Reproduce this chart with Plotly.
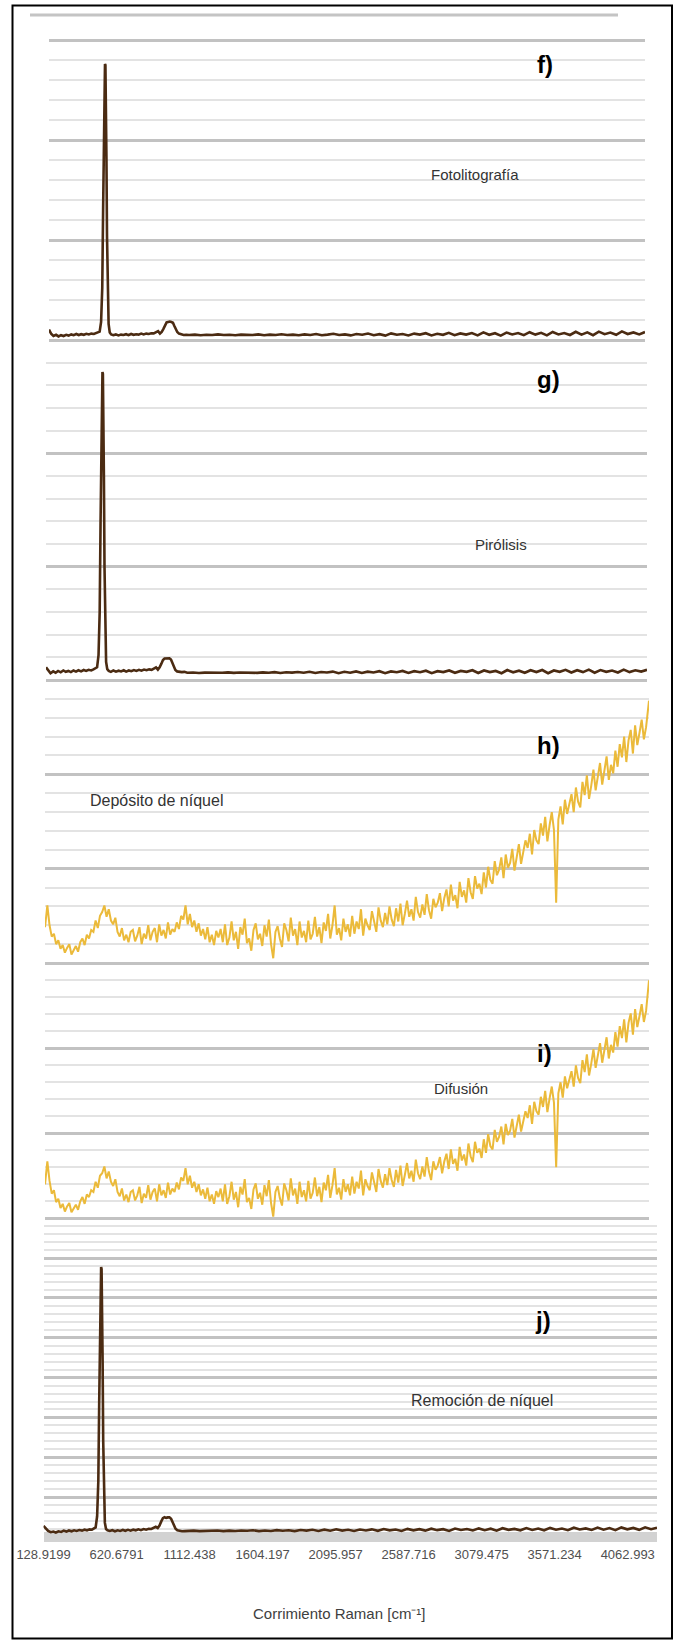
import plotly.graph_objects as go

# ---------------- data ----------------
# Raman shift sampling for the brown spectra (f, g, j)
SHIFT_BROWN = [
    129, 145, 160, 178, 195, 212, 230, 248, 265, 283, 300, 318, 335, 352, 370, 388, 405, 422, 440, 455, 468, 480,
    490, 498, 504, 509, 513, 517, 520, 523, 527, 531, 536, 542, 550, 560,
    575, 592, 610, 628, 645, 663, 680, 698, 715, 733, 750, 768, 785, 803, 820, 838, 855, 870, 885,
    898, 910, 922, 933, 944, 955, 966, 977, 988, 998, 1008, 1018, 1030, 1045, 1062, 1080,
    1100, 1140, 1180, 1220, 1260, 1300, 1340, 1380, 1420, 1460,
    1500, 1540, 1580, 1620, 1660, 1700, 1740, 1780, 1820, 1860,
    1900, 1940, 1980, 2020, 2060, 2100, 2140, 2180, 2220, 2260,
    2300, 2340, 2380, 2420, 2460, 2500, 2540, 2580, 2620, 2660,
    2700, 2740, 2780, 2820, 2860, 2900, 2940, 2980, 3020, 3060,
    3100, 3140, 3180, 3220, 3260, 3300, 3340, 3380, 3420, 3460,
    3500, 3540, 3580, 3620, 3660, 3700, 3740, 3780, 3820, 3860,
    3900, 3940, 3980, 4020, 4060, 4100, 4140, 4180, 4220, 4260,
]

FOTOLITOGRAFIA = [
    520, 300, 200, 260, 180, 240, 200, 260, 220, 280, 240, 300, 250, 290, 260, 310, 280, 320, 300, 340, 360, 420,
    900, 2600, 6500, 10500, 13000, 13800, 13750, 12600, 9200, 5200, 2100, 800, 380, 280,
    240, 280, 230, 270, 250, 290, 240, 300, 260, 290, 270, 320, 280, 320, 300, 340, 330, 380, 440,
    320, 400, 560, 760, 880, 900, 920, 900, 860, 700, 520, 400, 320, 280, 250, 260,
    250, 270, 240, 260, 250, 280, 250, 260, 240, 270,
    260, 250, 280, 240, 270, 250, 290, 250, 270, 240,
    280, 250, 300, 240, 270, 310, 250, 280, 230, 300,
    260, 320, 240, 290, 220, 330, 260, 300, 230, 320,
    270, 340, 230, 310, 260, 360, 240, 330, 270, 350,
    230, 380, 260, 340, 220, 370, 280, 350, 240, 390,
    270, 360, 230, 400, 280, 350, 250, 410, 270, 380,
    240, 420, 290, 370, 260, 430, 300, 380, 280, 400,
]

PIROLISIS = [
    560, 420, 300, 380, 320, 400, 340, 420, 360, 400, 350, 420, 370, 430, 380, 440, 400, 450, 420, 470, 500, 560,
    1100, 3000, 7000, 11000, 13000, 13580, 13500, 12400, 9000, 5000, 2000, 800, 480, 400,
    360, 420, 370, 410, 380, 430, 370, 420, 390, 440, 400, 450, 410, 460, 430, 470, 450, 500, 560,
    460, 560, 720, 880, 950, 960, 940, 960, 900, 740, 560, 440, 380, 360, 350, 360,
    320, 330, 310, 325, 315, 330, 320, 335, 315, 330,
    320, 340, 315, 335, 320, 345, 310, 340, 325, 350,
    320, 360, 310, 350, 330, 370, 300, 360, 320, 380,
    310, 370, 330, 390, 300, 380, 340, 400, 310, 390,
    340, 410, 300, 390, 350, 420, 320, 400, 360, 430,
    310, 420, 350, 400, 300, 440, 340, 410, 320, 430,
    350, 440, 300, 420, 360, 450, 330, 430, 350, 460,
    320, 440, 360, 420, 330, 460, 350, 430, 370, 450,
]

REMOCION_NIQUEL = [
    700, 520, 380, 300, 340, 280, 360, 320, 400, 340, 410, 360, 420, 380, 440, 400, 460, 420, 480, 460, 520, 600,
    1300, 3500, 8500, 13000, 16000, 16940, 16800, 15200, 11000, 6000, 2400, 900, 500, 420,
    380, 430, 360, 420, 380, 440, 390, 450, 400, 460, 420, 480, 430, 500, 460, 520, 500, 560, 640,
    560, 720, 980, 1180, 1240, 1200, 1230, 1240, 1150, 950, 700, 520, 420, 380, 360, 370,
    380, 400, 370, 390, 380, 410, 370, 400, 380, 410,
    390, 420, 370, 410, 380, 430, 390, 420, 370, 440,
    400, 450, 380, 460, 390, 480, 400, 450, 380, 470,
    410, 480, 390, 500, 420, 470, 380, 510, 420, 490,
    400, 520, 430, 490, 380, 530, 440, 500, 410, 540,
    430, 520, 400, 550, 450, 510, 420, 560, 440, 530,
    420, 570, 460, 530, 430, 580, 470, 540, 440, 590,
    460, 560, 430, 600, 480, 570, 450, 610, 490, 580,
]

# Raman shift sampling for the yellow spectra (h, i)
SHIFT_YELLOW = [
    129, 145, 160, 175, 190, 205, 220, 235, 250, 265, 280, 295, 310, 325, 340, 355, 370, 385, 400, 415,
    430, 445, 460, 475, 490, 505, 520, 535, 550, 565, 580, 595, 610, 625, 640, 655, 670, 685, 700, 715,
    730, 745, 760, 775, 790, 805, 820, 835, 850, 865, 880, 895, 910, 925, 940, 955, 970, 985, 1000, 1015,
    1030, 1045, 1060, 1075, 1090, 1105, 1120, 1135, 1150, 1165, 1180, 1195, 1210, 1225, 1240, 1255, 1270, 1285, 1300, 1315,
    1330, 1345, 1360, 1375, 1390, 1405, 1420, 1435, 1450, 1465, 1480, 1495, 1510, 1525, 1540, 1555, 1570, 1585, 1600, 1615,
    1630, 1645, 1660, 1675, 1690, 1705, 1720, 1735, 1750, 1765, 1780, 1795, 1810, 1825, 1840, 1855, 1870, 1885, 1900, 1915,
    1930, 1945, 1960, 1975, 1990, 2005, 2020, 2035, 2050, 2065, 2080, 2095, 2110, 2125, 2140, 2155, 2170, 2185, 2200, 2215,
    2230, 2245, 2260, 2275, 2290, 2305, 2320, 2335, 2350, 2365, 2380, 2395, 2410, 2425, 2440, 2455, 2470, 2485, 2500, 2515,
    2530, 2545, 2560, 2575, 2590, 2605, 2620, 2635, 2650, 2665, 2680, 2695, 2710, 2725, 2740, 2755, 2770, 2785, 2800, 2815,
    2830, 2845, 2860, 2875, 2890, 2905, 2920, 2935, 2950, 2965, 2980, 2995, 3010, 3025, 3040, 3055, 3070, 3085, 3100, 3115,
    3130, 3145, 3160, 3175, 3190, 3205, 3220, 3235, 3250, 3265, 3280, 3295, 3310, 3325, 3340, 3355, 3370, 3385, 3400, 3415,
    3430, 3445, 3460, 3475, 3490, 3505, 3520, 3535, 3550, 3565, 3580, 3595, 3610, 3625, 3640, 3655, 3670, 3685, 3700, 3715,
    3730, 3745, 3760, 3775, 3790, 3805, 3820, 3835, 3850, 3865, 3880, 3895, 3910, 3925, 3940, 3955, 3970, 3985, 4000, 4015,
    4030, 4045, 4060, 4075, 4090, 4105, 4120, 4135, 4150, 4165, 4180, 4195, 4210, 4225, 4240, 4260,
]

DEPOSITO_NIQUEL = [
    38, 61, 40, 28, 31, 20, 24, 15, 19, 11, 16, 20, 9, 14, 18, 12, 22, 26, 19, 30,
    26, 35, 33, 45, 37, 50, 54, 61, 49, 57, 45, 41, 48, 33, 28, 37, 24, 30, 22, 33,
    35, 23, 29, 38, 20, 31, 26, 40, 24, 33, 37, 22, 41, 29, 35, 26, 43, 30, 36, 33,
    43, 36, 50, 46, 61, 41, 52, 38, 45, 33, 42, 29, 36, 25, 38, 22, 30, 19, 34, 27,
    36, 22, 41, 19, 27, 44, 24, 33, 15, 38, 30, 47, 21, 26, 13, 35, 42, 25, 31, 18,
    40, 28, 46, 20, 5, 33, 39, 26, 17, 42, 35, 23, 48, 29, 36, 19, 44, 27, 34, 22,
    45, 25, 31, 49, 28, 38, 21, 43, 34, 52, 26, 40, 61, 30, 37, 24, 47, 33, 41, 28,
    50, 31, 44, 36, 57, 29, 47, 40, 35, 55, 42, 33, 59, 45, 38, 53, 41, 60, 46, 39,
    58, 44, 63, 40, 52, 66, 49, 57, 45, 70, 54, 48, 62, 51, 73, 56, 47, 68, 59, 64,
    74, 55, 69, 78, 60, 83, 66, 72, 58, 86, 70, 77, 64, 90, 75, 68, 92, 79, 84, 73,
    96, 80, 102, 88, 84, 108, 93, 99, 112, 90, 115, 101, 106, 121, 98, 113, 126, 105, 119, 130,
    122, 137, 115, 141, 130, 126, 148, 135, 155, 129, 146, 160, 141, 64, 152, 166, 147, 173, 158, 168,
    179, 160, 186, 171, 165, 192, 178, 199, 174, 188, 205, 183, 196, 212, 189, 203, 219, 194, 210, 201,
    225, 208, 232, 218, 240, 213, 236, 247, 222, 252, 231, 244, 258, 237, 250, 278,
]

DIFUSION = [
    40, 67, 44, 29, 33, 19, 23, 12, 17, 8, 14, 18, 7, 12, 16, 10, 20, 25, 17, 28,
    25, 33, 31, 43, 36, 50, 53, 61, 47, 55, 43, 38, 46, 31, 26, 35, 21, 28, 19, 31,
    33, 21, 27, 37, 18, 29, 24, 39, 22, 31, 35, 20, 40, 27, 33, 24, 42, 28, 35, 31,
    42, 34, 48, 44, 59, 40, 50, 36, 43, 31, 40, 27, 34, 23, 36, 20, 28, 17, 32, 25,
    35, 20, 40, 17, 26, 43, 22, 31, 13, 37, 28, 46, 19, 24, 11, 34, 41, 23, 30, 16,
    39, 26, 45, 18, 2, 31, 38, 24, 15, 41, 33, 21, 47, 27, 35, 17, 43, 25, 33, 20,
    44, 23, 30, 48, 26, 37, 19, 42, 33, 51, 24, 39, 59, 28, 36, 22, 46, 31, 40, 27,
    49, 29, 43, 35, 56, 27, 46, 38, 33, 54, 41, 31, 58, 44, 36, 52, 39, 59, 45, 37,
    57, 42, 62, 38, 51, 65, 47, 56, 43, 69, 53, 46, 61, 49, 72, 55, 45, 67, 57, 62,
    72, 53, 67, 76, 58, 81, 64, 70, 56, 84, 68, 75, 62, 88, 73, 66, 90, 77, 82, 71,
    93, 77, 99, 85, 81, 104, 90, 96, 108, 87, 111, 98, 103, 117, 95, 110, 122, 102, 116, 126,
    118, 133, 111, 137, 126, 122, 143, 131, 150, 125, 141, 155, 136, 60, 147, 160, 142, 167, 153, 162,
    173, 155, 180, 165, 159, 186, 172, 193, 168, 182, 199, 177, 190, 206, 183, 197, 213, 188, 204, 195,
    219, 202, 226, 212, 234, 207, 230, 241, 216, 246, 225, 238, 252, 231, 244, 280,
]

TICK_VALUES = [128.9199, 620.6791, 1112.438, 1604.197, 2095.957, 2587.716, 3079.475, 3571.234, 4062.993]
TICK_LABELS = ["128.9199", "620.6791", "1112.438", "1604.197", "2095.957", "2587.716", "3079.475", "3571.234", "4062.993"]

PANEL_TAGS = ["f)", "g)", "h)", "i)", "j)"]
PANEL_NAMES = ["Fotolitografía", "Pirólisis", "Depósito de níquel", "Difusión", "Remoción de níquel"]
X_TITLE = "Corrimiento Raman [cm⁻¹]"

for name, ys, xs in [("f", FOTOLITOGRAFIA, SHIFT_BROWN), ("g", PIROLISIS, SHIFT_BROWN),
                     ("j", REMOCION_NIQUEL, SHIFT_BROWN), ("h", DEPOSITO_NIQUEL, SHIFT_YELLOW),
                     ("i", DIFUSION, SHIFT_YELLOW)]:
    if len(ys) != len(xs):
        raise ValueError(f"{name}: {len(ys)} vs {len(xs)}")

# ---------------- layout ----------------
W, H = 675, 1640
BROWN = "#4b2b12"
YELLOW = "#ebba3a"
MAJOR = "#c2c2c2"
MINOR = "#e3e3e3"
SANS = "Liberation Sans, Arial, sans-serif"
X_RANGE = [128.9199, 4260]

# per panel: x px domain, y px domain, px of value 0, units per px, minor dtick, major dtick
PANELS = [
    dict(xd=(49, 645), yd=(33, 343), base=340.0, upp=1000 / 20.0, minor=1000, major=5000),
    dict(xd=(46, 647), yd=(343, 683), base=680.0, upp=1000 / 22.67, minor=1000, major=5000),
    dict(xd=(45, 649), yd=(683, 966), base=963.0, upp=20 / 18.87, minor=20, major=100),
    dict(xd=(45, 649), yd=(966, 1221), base=1218.3, upp=20 / 17.0, minor=20, major=100),
    dict(xd=(43.5, 657), yd=(1221, 1545), base=1537.0, upp=500 / 7.97, minor=500, major=2500),
]

SERIES = [
    (SHIFT_BROWN, FOTOLITOGRAFIA, BROWN, 2.6),
    (SHIFT_BROWN, PIROLISIS, BROWN, 2.6),
    (SHIFT_YELLOW, DEPOSITO_NIQUEL, YELLOW, 2.0),
    (SHIFT_YELLOW, DIFUSION, YELLOW, 2.0),
    (SHIFT_BROWN, REMOCION_NIQUEL, BROWN, 2.6),
]

fig = go.Figure()
layout = dict(
    width=W, height=H, margin=dict(l=0, r=0, t=0, b=0, pad=0, autoexpand=False),
    paper_bgcolor="white", plot_bgcolor="white", showlegend=False,
)

for k, (p, (xs, ys, col, lw)) in enumerate(zip(PANELS, SERIES)):
    n = "" if k == 0 else str(k + 1)
    fig.add_trace(go.Scatter(x=xs, y=ys, mode="lines", line=dict(color=col, width=lw),
                             xaxis="x" + n, yaxis="y" + n, hoverinfo="skip"))
    y_lo = (p["base"] - p["yd"][1]) * p["upp"]
    y_hi = (p["base"] - p["yd"][0]) * p["upp"]
    is_last = k == len(PANELS) - 1
    xa = dict(domain=[p["xd"][0] / W, p["xd"][1] / W], range=X_RANGE, anchor="y" + n,
              showgrid=False, zeroline=False, showline=False, ticks="", automargin=False,
              showticklabels=is_last, fixedrange=True)
    if is_last:
        xa.update(tickmode="array", tickvals=TICK_VALUES, ticktext=TICK_LABELS,
                  tickfont=dict(family=SANS, size=13, color="#505050"))
    ya = dict(domain=[1 - p["yd"][1] / H, 1 - p["yd"][0] / H], range=[y_lo, y_hi], anchor="x" + n,
              showticklabels=False, ticks="", showline=False, automargin=False,
              tick0=0, dtick=p["major"], showgrid=True, gridcolor=MAJOR, gridwidth=2.5,
              minor=dict(tick0=0, dtick=p["minor"], showgrid=True, gridcolor=MINOR, gridwidth=1.6),
              zeroline=is_last, zerolinecolor="#d2d2d2", zerolinewidth=10, fixedrange=True)
    layout["xaxis" + n] = xa
    layout["yaxis" + n] = ya

fig.update_layout(**layout)

# panel tags and names
TAG_POS = [(535, 64), (535, 379), (535, 746), (535, 1053), (533, 1320)]
NAME_POS = [(475, 175, 15), (501, 545, 15), (156, 800, 16), (461, 1088, 15), (482, 1400, 16)]
for tag, (tx, ty) in zip(PANEL_TAGS, TAG_POS):
    fig.add_annotation(text="<b>" + tag + "</b>", x=tx / W, y=1 - ty / H, xref="paper", yref="paper",
                       xanchor="left", yanchor="middle", showarrow=False,
                       font=dict(family=SANS, size=24, color="black"))
for name, (nx, ny, fs) in zip(PANEL_NAMES, NAME_POS):
    fig.add_annotation(text=name, x=nx / W, y=1 - ny / H, xref="paper", yref="paper",
                       xanchor="center", yanchor="middle", showarrow=False,
                       font=dict(family=SANS, size=fs, color="#333333"))

fig.add_annotation(text=X_TITLE, x=339 / W, y=1 - 1613 / H, xref="paper", yref="paper",
                   xanchor="center", yanchor="middle", showarrow=False,
                   font=dict(family=SANS, size=15, color="#404040"))

# decorations: cut-off line at the top and the outer frame
fig.add_shape(type="line", xref="paper", yref="paper", x0=30 / W, x1=618 / W, y0=1 - 15 / H, y1=1 - 15 / H,
              line=dict(color="#c4c4c4", width=3), layer="below")
fig.add_shape(type="rect", xref="paper", yref="paper", x0=12.5 / W, x1=672 / W, y0=1 - 1638.5 / H, y1=1 - 5.5 / H,
              line=dict(color="black", width=2), fillcolor="rgba(0,0,0,0)")

fig.write_html("out.html")
